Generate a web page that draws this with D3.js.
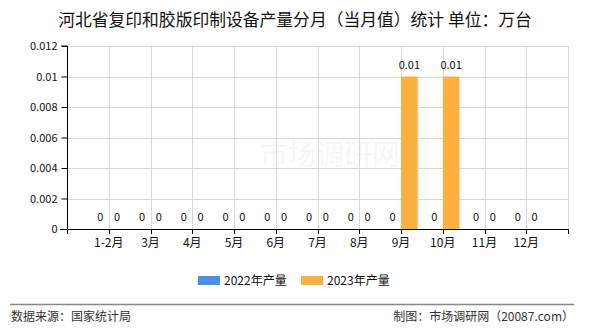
<!DOCTYPE html>
<html>
<head>
<meta charset="utf-8">
<script src="https://cdn.jsdelivr.net/npm/d3@7"></script>
<style>
  body { margin: 0; background: #fff; }
  text { font-family: "Noto Sans CJK SC", "DejaVu Sans", sans-serif; }
</style>
</head>
<body>
<svg id="chart" width="590" height="330"></svg>
<script>
const categories = ["1-2月", "3月", "4月", "5月", "6月", "7月", "8月", "9月", "10月", "11月", "12月"];
const values2022 = [0, 0, 0, 0, 0, 0, 0, 0, 0, 0, 0];
const values2023 = [0, 0, 0, 0, 0, 0, 0, 0.01, 0.01, 0, 0];
const yTicks = [0, 0.002, 0.004, 0.006, 0.008, 0.01, 0.012];
const seriesNames = ["2022年产量", "2023年产量"];
const colors = ["#4a8fe8", "#fbb03f"];

const svg = d3.select("#chart");
const plotLeft = 67, plotRight = 568, plotTop = 46, plotBottom = 229;
const step = (plotRight - plotLeft) / 12;

const x = d3.scalePoint().domain(categories).range([plotLeft + step, plotRight - step]);
const y = d3.scaleLinear().domain([0, 0.012]).range([plotBottom, plotTop]);
const barW = step * 0.4;

// title
svg.append("text")
	.attr("x", 295).attr("y", 26)
	.attr("text-anchor", "middle")
	.style("font-size", "16.8px")
	.attr("fill", "#111")
	.text("河北省复印和胶版印制设备产量分月（当月值）统计 单位：万台");

// watermark
svg.append("text")
	.attr("x", 330).attr("y", 165)
	.attr("text-anchor", "middle")
	.style("font-size", "28px")
	.attr("fill", "#000").attr("opacity", 0.03)
	.text("市场调研网");

// grid
const grid = svg.append("g").attr("stroke", "#d9d9d9").attr("stroke-width", 1);
grid.selectAll(".h").data(yTicks.slice(1)).join("line")
	.attr("x1", plotLeft).attr("x2", plotRight)
	.attr("y1", (d) => Math.round(y(d)) + 0.5).attr("y2", (d) => Math.round(y(d)) + 0.5);
grid.selectAll(".v").data(categories.concat(["end"])).join("line")
	.attr("x1", (d) => Math.round(d === "end" ? plotRight : x(d)) + 0.5)
	.attr("x2", (d) => Math.round(d === "end" ? plotRight : x(d)) + 0.5)
	.attr("y1", plotTop).attr("y2", plotBottom);

// bars
const series = [values2022, values2023];
series.forEach((vals, s) => {
	svg.append("g").selectAll("rect")
		.data(categories.map((c, i) => ({ c, v: vals[i] })))
		.join("rect")
		.attr("x", (d) => x(d.c) + (s === 0 ? -barW : 0))
		.attr("y", (d) => y(d.v))
		.attr("width", barW)
		.attr("height", (d) => plotBottom - y(d.v))
		.attr("fill", colors[s]);

	svg.append("g").selectAll("text")
		.data(categories.map((c, i) => ({ c, v: vals[i] })))
		.join("text")
		.attr("x", (d) => x(d.c) + (s === 0 ? -barW / 2 : barW / 2))
		.attr("y", (d) => y(d.v) - 8)
		.attr("text-anchor", "middle")
		.style("font-size", "11px")
		.attr("fill", "#111")
		.text((d) => d.v);
});

// y axis
svg.append("g")
	.attr("transform", `translate(${plotLeft + 0.5},0)`)
	.call(d3.axisLeft(y).tickValues(yTicks).tickSize(6).tickFormat((d) => d))
	.call((g) => g.select(".domain").attr("d", `M-6,${plotTop}H0V${plotBottom}`).attr("stroke", "#000"))
	.call((g) => g.selectAll("text").style("font-size", "11px").attr("fill", "#111").attr("dx", -1))
	.call((g) => g.selectAll("line").attr("stroke", "#000"));

// x axis
svg.append("line")
	.attr("x1", plotLeft - 7).attr("x2", plotRight + 1)
	.attr("y1", plotBottom + 0.5).attr("y2", plotBottom + 0.5)
	.attr("stroke", "#000");
svg.append("g").selectAll("line")
	.data([plotLeft].concat(categories.map((c) => x(c)), [plotRight]))
	.join("line")
	.attr("x1", (d) => Math.round(d) + 0.5).attr("x2", (d) => Math.round(d) + 0.5)
	.attr("y1", plotBottom).attr("y2", plotBottom + 5)
	.attr("stroke", "#000");
svg.append("g").selectAll("text")
	.data(categories)
	.join("text")
	.attr("x", (d) => x(d)).attr("y", plotBottom + 18)
	.attr("text-anchor", "middle")
	.style("font-size", "12px")
	.attr("fill", "#111")
	.text((d) => d);

// legend
const legendX = [198, 301];
seriesNames.forEach((name, i) => {
	svg.append("rect")
		.attr("x", legendX[i]).attr("y", 276)
		.attr("width", 22).attr("height", 9)
		.attr("fill", colors[i]);
	svg.append("text")
		.attr("x", legendX[i] + 26).attr("y", 285)
		.style("font-size", "12px")
		.attr("fill", "#111")
		.text(name);
});

// footer
svg.append("line")
	.attr("x1", 10).attr("x2", 574)
	.attr("y1", 304.5).attr("y2", 304.5)
	.attr("stroke", "#888").attr("stroke-width", 1.5);
svg.append("text")
	.attr("x", 11).attr("y", 321)
	.style("font-size", "12px").attr("fill", "#333")
	.text("数据来源：国家统计局");
svg.append("text")
	.attr("x", 574).attr("y", 321)
	.attr("text-anchor", "end")
	.style("font-size", "12px").attr("fill", "#333")
	.text("制图：市场调研网（20087.com）");
</script>
</body>
</html>
